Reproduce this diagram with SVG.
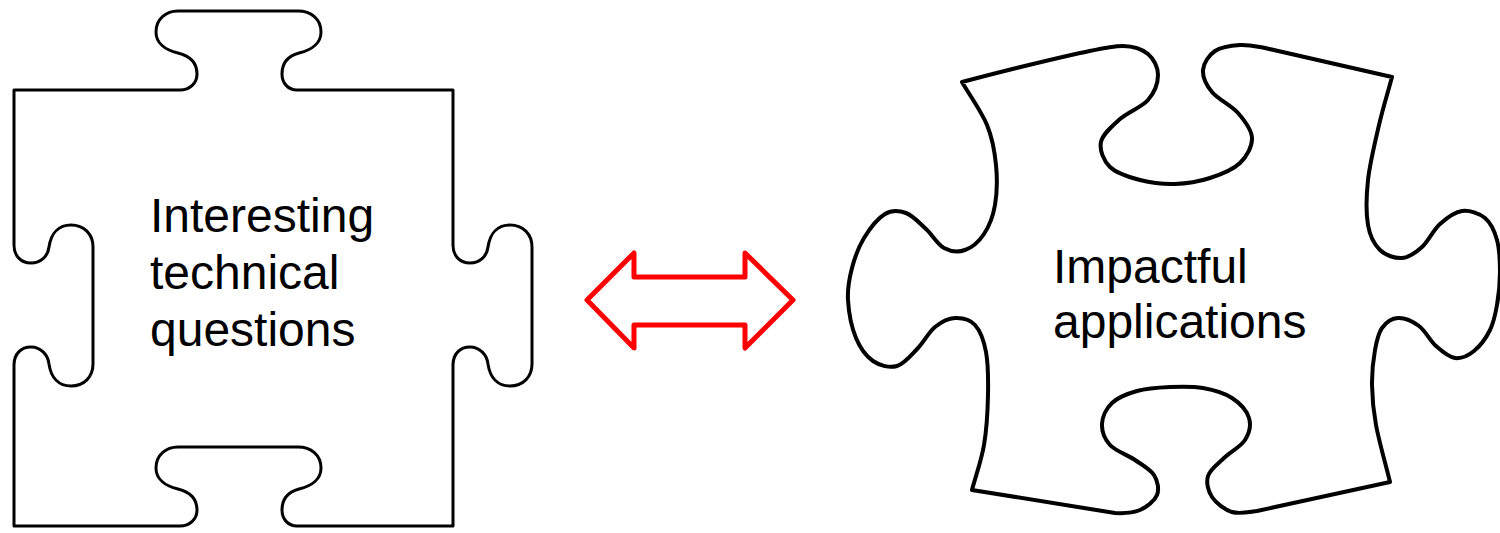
<svg xmlns="http://www.w3.org/2000/svg" width="1500" height="533" viewBox="0 0 1500 533">
<style>
.piece{fill:#fff;stroke:#000;stroke-width:3;stroke-linejoin:round}
.thick{stroke-width:4}
.lbl{font-family:"Liberation Sans",Arial,sans-serif;font-size:48px;fill:#000}
.arrow{fill:#fff;stroke:#ff0000;stroke-width:5;stroke-linejoin:round}
</style>
<rect width="1500" height="533" fill="#fff"/>
<g id="piece-left">
<path class="piece" d="M 14 90 H 180 C 190 90 197 83 197 74 C 197 63 190 56 178 53 C 165 50 156 43 156 32 C 156 19 166 11 178 11 H 298 C 311 11 321 19 321 32 C 321 43 312 50 299 53 C 288 56 282 63 282 74 C 282 83 288 90 297 90 H 453 V 245 C 453 256 460 263 470 263 C 480 263 487 256 488 247 C 490 233 498 225 510 225 C 523 225 532 234 532 247 V 364 C 532 377 523 386 510 386 C 498 386 490 378 488 364 C 487 355 480 347 470 347 C 460 347 453 354 453 365 V 526 H 297 C 288 526 282 519 282 510 C 282 499 288 492 299 489 C 312 486 321 479 321 468 C 321 455 311 447 298 447 H 178 C 166 447 156 455 156 468 C 156 479 165 486 178 489 C 190 492 197 499 197 510 C 197 519 190 526 180 526 H 14 V 365 C 14 354 21 347 31 347 C 41 347 48 355 49 364 C 51 378 59 386 71 386 C 84 386 93 377 93 364 V 247 C 93 234 84 225 71 225 C 59 225 51 233 49 247 C 48 256 41 263 31 263 C 21 263 14 256 14 245 Z"/>
<text class="lbl" x="150" y="232">Interesting</text>
<text class="lbl" x="150" y="289">technical</text>
<text class="lbl" x="150" y="346">questions</text>
</g>
<g id="piece-right">
<path class="piece thick" d="M 962 82 C 1000 72 1040 62 1080 53 C 1093.8 50.3 1111.7 45.8 1123 46 S 1142.2 49.2 1148 54 S 1158 67.3 1158 75 S 1154.3 92.7 1148 100 S 1127.8 112 1120 119 S 1102.7 134 1101 142 S 1103.5 160.7 1110 167 S 1129.2 177.2 1140 180 S 1163.3 184.3 1175 184 S 1199.2 181.5 1210 178 S 1233 169.7 1240 163 S 1252.3 146.3 1252 138 S 1244.7 120.7 1238 113 S 1217.8 99.2 1212 92 S 1202.5 76.8 1203 70 S 1208.8 55.2 1215 51 S 1231.7 45.5 1240 45 S 1255 46.2 1265 48 L 1392 77 C 1387.7 93 1383 107.8 1379 125 S 1369.8 163.3 1368 180 S 1366 213.3 1368 225 S 1374.3 244.5 1380 250 S 1395 258.5 1402 258 S 1415.7 252.7 1422 247 S 1433.3 230 1440 224 S 1454.5 212 1462 211 S 1479.2 213.2 1485 218 S 1494.5 231 1497 240 S 1500 261.2 1500 272 S 1498.7 295.3 1497 305 S 1493.8 322.3 1490 330 S 1479.8 346.3 1474 351 S 1461.3 358.8 1455 358 S 1442 351.3 1436 346 S 1425.3 330.7 1419 326 S 1404.2 317.7 1398 318 S 1385.8 322.7 1382 328 S 1376.7 340.5 1375 350 S 1371.8 372.5 1372 385 S 1373 408.8 1376 425 S 1385.3 463 1390 482 L 1257 511 C 1247.3 512.3 1239.5 514.3 1232 512 S 1216 503 1212 497 S 1206 482.5 1208 476 S 1217.8 464 1224 458 S 1240.8 446.7 1245 440 S 1251.2 425 1249 418 S 1239.7 403 1232 398 S 1213.3 389.8 1203 388 S 1181 386.5 1170 387 S 1146.7 388.3 1137 391 S 1117.8 397.5 1112 403 S 1102.3 417 1102 424 S 1104.5 439 1110 445 S 1127.7 455 1135 460 S 1150.3 469.2 1154 475 S 1159.3 489.2 1157 495 S 1147 507 1140 510 S 1125 513.5 1115 513 L 972 490 C 976 475 981.3 460.8 984 445 S 987.7 410.5 988 395 S 988.2 363.7 986 352 S 980.2 330.7 975 325 S 961.7 317.7 955 318 S 941.2 322 935 327 S 924.3 341.5 918 348 S 904.5 363.8 897 366 S 879.8 365.7 873 361 S 860.2 348.2 856 338 S 848.7 311.7 848 300 S 849.3 278.3 852 268 S 858.5 247 864 238 S 878 218.2 885 214 S 899.2 210.5 906 213 S 919.7 223.2 926 229 S 937.5 244.5 944 248 S 958.3 252.3 965 250 S 979 241.5 984 234 S 993 216.5 995 205 S 997.3 178.3 996 165 S 992.7 138.8 987 125 S 970.3 96.3 962 82 Z"/>
<text class="lbl" x="1053" y="283">Impactful</text>
<text class="lbl" x="1053" y="338">applications</text>
</g>
<g id="connectors">
<path class="arrow" d="M 587 300 L 634 253 L 634 277 L 745 277 L 745 253 L 793 300 L 745 348 L 745 325 L 634 325 L 634 348 Z"/>
</g>
</svg>
